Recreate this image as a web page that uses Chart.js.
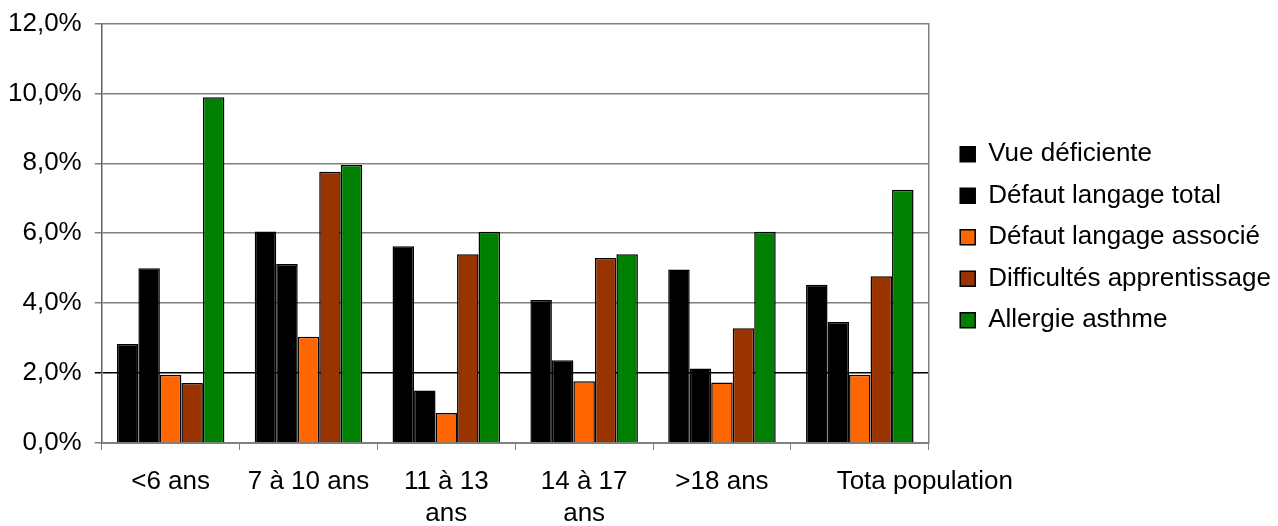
<!DOCTYPE html>
<html>
<head>
<meta charset="utf-8">
<script src="https://cdn.jsdelivr.net/npm/chart.js@4/dist/chart.umd.min.js"></script>
<style>
  html, body { margin: 0; padding: 0; background: #fff; }
  #wrap { width: 1278px; height: 526px; }
</style>
</head>
<body>
<div id="wrap"><canvas id="c" width="1278" height="526"></canvas></div>
<script>
// Age groups on the category axis (multi-line where the label wraps;
// the last label sits right of its group)
const categories = ['<6 ans', '7 à 10 ans', ['11 à 13', 'ans'], ['14 à 17', 'ans'], '>18 ans',
  '\u00A0'.repeat(18) + 'Tota population'];

// Prevalence by age group, in percent
const vueDeficiente        = [2.83, 6.05, 5.63, 4.09, 4.96, 4.53];
const defautLangageTotal   = [5.00, 5.12, 1.50, 2.37, 2.13, 3.46];
const defautLangageAssocie = [1.95, 3.04, 0.86, 1.77, 1.73, 1.95];
const difficultesApprent   = [1.72, 7.76, 5.40, 5.29, 3.28, 4.77];
const allergieAsthme       = [9.89, 7.95, 6.04, 5.40, 6.04, 7.24];

// Y axis range and step
const yTicks = [0, 2, 4, 6, 8, 10, 12];

const FONT = 'Liberation Sans, Arial, sans-serif';
const FS = 26;

function ds(label, data, color) {
  return {
    label, data,
    backgroundColor: color,
    borderColor: '#000',
    borderWidth: 1.5,
    categoryPercentage: 0.78,
    barPercentage: 1.0
  };
}

// Place the legend block beside the middle of the plot area
const legendPlace = {
  id: 'legendPlace',
  afterLayout(chart) {
    const lg = chart.legend;
    if (!lg) return;
    const target = (chart.chartArea.top + chart.chartArea.bottom) / 2 + 4;
    const current = (lg.top + lg.bottom) / 2;
    lg.bottom += 2 * (target - current);
    lg.left += 8;
    lg.right += 8;
  }
};

new Chart(document.getElementById('c'), {
  type: 'bar',
  data: {
    labels: categories,
    datasets: [
      ds('Vue déficiente', vueDeficiente, '#000000'),
      ds('Défaut langage total', defautLangageTotal, '#000000'),
      ds('Défaut langage associé', defautLangageAssocie, '#FF6600'),
      ds('Difficultés apprentissage', difficultesApprent, '#993300'),
      ds('Allergie asthme', allergieAsthme, '#008000')
    ]
  },
  plugins: [legendPlace],
  options: {
    responsive: false,
    animation: false,
    devicePixelRatio: 1,
    layout: { padding: { left: -5, right: 5, top: 0, bottom: -20 } },
    plugins: {
      tooltip: { enabled: false },
      legend: {
        position: 'right',
        align: 'center',
        maxWidth: 400,
        labels: {
          color: '#000',
          font: { family: FONT, size: FS },
          boxWidth: 15,
          boxHeight: 15,
          padding: 15.5
        }
      }
    },
    scales: {
      x: {
        offset: true,
        grid: {
          offset: true,
          drawOnChartArea: false,
          tickLength: 7,
          color: '#808080'
        },
        border: { color: '#808080' },
        ticks: {
          color: '#000',
          font: { family: FONT, size: FS, lineHeight: 1.23 },
          padding: 16,
          maxRotation: 0,
          autoSkip: false
        }
      },
      y: {
        min: yTicks[0],
        max: yTicks[yTicks.length - 1],
        afterBuildTicks: (s) => { s.ticks = yTicks.map(v => ({ value: v })); },
        grid: {
          tickLength: 7,
          color: (c) => (c.tick && c.tick.value === 2 ? '#000' : '#808080'),
          lineWidth: 1.5
        },
        border: { color: '#606060', width: 1.5 },
        ticks: {
          color: '#000',
          font: { family: FONT, size: FS, lineHeight: 0.8 },
          padding: 13,
          callback: (v) => v.toFixed(1).replace('.', ',') + '%'
        }
      },
      y2: {
        position: 'right',
        min: yTicks[0],
        max: yTicks[yTicks.length - 1],
        grid: { display: false },
        ticks: { display: false },
        border: { display: true, color: '#808080', width: 1.5 }
      }
    }
  }
});
</script>
</body>
</html>
